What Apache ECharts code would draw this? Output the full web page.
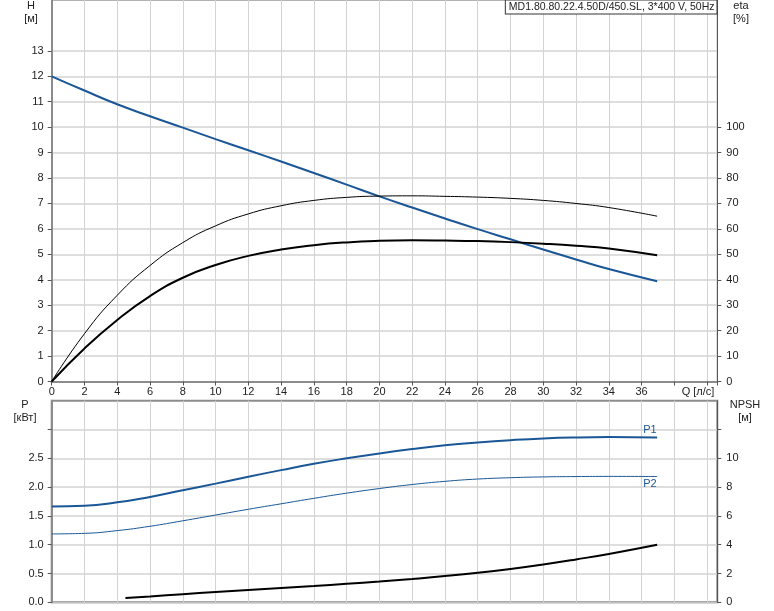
<!DOCTYPE html>
<html><head><meta charset="utf-8">
<script src="https://cdn.jsdelivr.net/npm/echarts@6/dist/echarts.min.js"></script>
<style>html,body{margin:0;padding:0;background:#fff}#c{width:774px;height:611px}</style>
</head><body><div id="c"></div>
<script>
// ---- data ----
const qMain = [0, 2, 4, 6, 8, 10, 12, 14, 16, 18, 20, 22, 24, 26, 28, 30, 32, 34, 36.95];
const headH = [12.0, 11.44, 10.9, 10.43, 9.98, 9.53, 9.09, 8.65, 8.2, 7.74, 7.28, 6.84, 6.41, 5.99, 5.59, 5.19, 4.8, 4.42, 3.94];
const etaPump = [0, 18.8, 33.9, 45.6, 54.6, 61.2, 65.9, 69.1, 71.2, 72.4, 72.9, 73.0, 72.8, 72.5, 72.0, 71.2, 70.0, 68.4, 65.0];
const etaTotal = [0, 13.0, 24.2, 33.6, 40.8, 45.8, 49.4, 51.9, 53.6, 54.7, 55.3, 55.5, 55.4, 55.2, 54.8, 54.2, 53.4, 52.3, 49.6];
const powerP1 = [1.665, 1.675, 1.735, 1.83, 1.945, 2.06, 2.18, 2.295, 2.405, 2.50, 2.585, 2.66, 2.725, 2.775, 2.815, 2.845, 2.862, 2.868, 2.862];
const powerP2 = [1.187, 1.197, 1.245, 1.32, 1.415, 1.515, 1.615, 1.71, 1.805, 1.895, 1.975, 2.045, 2.1, 2.14, 2.163, 2.177, 2.183, 2.186, 2.184];
const qNpsh = [4.5, 6, 8, 10, 12, 14, 16, 18, 20, 22, 24, 26, 28, 30, 32, 34, 36.95];
const npsh = [0.3, 0.41, 0.565, 0.71, 0.85, 0.99, 1.13, 1.28, 1.44, 1.62, 1.82, 2.05, 2.32, 2.63, 2.98, 3.36, 4.0];
const hTicks = [0,1,2,3,4,5,6,7,8,9,10,11,12,13];
const etaTicks = [0,10,20,30,40,50,60,70,80,90,100];
const pTicks = [0,0.5,1,1.5,2,2.5,3];
const npshTicks = [0,2,4,6,8,10,12];
const titleText = 'MD1.80.80.22.4.50D/450.SL, 3*400 V, 50Hz';

const pair = (xs, ys) => xs.map((x, i) => [x, ys[i]]);
const FONT = 'Liberation Sans, Arial, sans-serif';
const TXT = '#222';
const BLUE = '#1b5796';
const AX = '#8c8c8c';
const GRID = '#d3d3d3';

const chart = echarts.init(document.getElementById('c'), null, {renderer: 'canvas'});
const lbl = {color: TXT, fontFamily: FONT, fontSize: 11};
const curve = {type: 'line', smooth: true, showSymbol: false};

chart.setOption({
  animation: false,
  backgroundColor: '#fff',
  grid: [
    {left: 51.7, right: 56.7, top: 0, height: 381.5, show: true, borderColor: '#666', borderWidth: 1},
    {left: 51.7, right: 56.7, top: 400.7, height: 201.6, show: true, borderColor: AX, borderWidth: 2}
  ],
  xAxis: [
    {type: 'value', gridIndex: 0, min: 0, max: 40.62, interval: 2,
     axisLine: {show: true, onZero: false, lineStyle: {color: AX, width: 2}},
     axisTick: {show: true, length: 4, lineStyle: {color: '#555'}},
     axisLabel: Object.assign({margin: 5, formatter: v => (v <= 36 && v % 2 === 0) ? String(v) : ''}, lbl),
     splitLine: {show: true, lineStyle: {color: GRID, width: 1}}},
    {type: 'value', gridIndex: 1, min: 0, max: 40.62, interval: 2,
     axisLine: {show: false}, axisTick: {show: false}, axisLabel: {show: false},
     splitLine: {show: true, lineStyle: {color: GRID, width: 1}}}
  ],
  yAxis: [
    {type: 'value', gridIndex: 0, position: 'left', min: 0, max: 15, interval: 1,
     axisLine: {show: true, onZero: false, lineStyle: {color: AX, width: 2}},
     axisTick: {show: true, length: 4, customValues: hTicks, lineStyle: {color: '#555'}},
     axisLabel: Object.assign({margin: 8, customValues: hTicks, formatter: v => v <= 13 ? String(v) : ''}, lbl),
     splitLine: {show: true, lineStyle: {color: GRID, width: 1.5}}},
    {type: 'value', gridIndex: 0, position: 'right', min: 0, max: 150, interval: 10,
     axisLine: {show: true, onZero: false, lineStyle: {color: '#555', width: 1}},
     axisTick: {show: true, length: 4, customValues: etaTicks, lineStyle: {color: '#555'}},
     axisLabel: Object.assign({margin: 9, customValues: etaTicks, formatter: v => v <= 100 ? String(v) : ''}, lbl),
     splitLine: {show: false}},
    {type: 'value', gridIndex: 1, position: 'left', min: 0, max: 3.5, interval: 0.5,
     axisLine: {show: true, onZero: false, lineStyle: {color: AX, width: 2}},
     axisTick: {show: true, length: 4, customValues: pTicks, lineStyle: {color: '#555'}},
     axisLabel: Object.assign({margin: 8, customValues: pTicks, formatter: v => v <= 2.5 ? v.toFixed(1) : ''}, lbl),
     splitLine: {show: true, lineStyle: {color: GRID, width: 1.5}}},
    {type: 'value', gridIndex: 1, position: 'right', min: 0, max: 14, interval: 2,
     axisLine: {show: true, onZero: false, lineStyle: {color: '#555', width: 1}},
     axisTick: {show: true, length: 4, customValues: npshTicks, lineStyle: {color: '#555'}},
     axisLabel: Object.assign({margin: 9, customValues: npshTicks, formatter: v => v <= 10 ? String(v) : ''}, lbl),
     splitLine: {show: false}}
  ],
  series: [
    Object.assign({name: 'H', xAxisIndex: 0, yAxisIndex: 0, data: pair(qMain, headH),
     lineStyle: {color: BLUE, width: 2}}, curve),
    Object.assign({name: 'eta', xAxisIndex: 0, yAxisIndex: 1, data: pair(qMain, etaPump),
     lineStyle: {color: '#000', width: 1}}, curve),
    Object.assign({name: 'eta tot', xAxisIndex: 0, yAxisIndex: 1, data: pair(qMain, etaTotal),
     lineStyle: {color: '#000', width: 2}}, curve),
    Object.assign({name: 'P1', xAxisIndex: 1, yAxisIndex: 2, data: pair(qMain, powerP1),
     lineStyle: {color: BLUE, width: 2},
     endLabel: {show: true, formatter: 'P1', color: BLUE, fontFamily: FONT, fontSize: 11, offset: [-22, -7]}}, curve),
    Object.assign({name: 'P2', xAxisIndex: 1, yAxisIndex: 2, data: pair(qMain, powerP2),
     lineStyle: {color: BLUE, width: 1},
     endLabel: {show: true, formatter: 'P2', color: BLUE, fontFamily: FONT, fontSize: 11, offset: [-22, 7]}}, curve),
    Object.assign({name: 'NPSH', xAxisIndex: 1, yAxisIndex: 3, data: pair(qNpsh, npsh),
     lineStyle: {color: '#000', width: 2}}, curve)
  ],
  graphic: [
    {type: 'text', x: 716.5, y: 0.5, z: 100, style: {text: titleText, fill: TXT, font: '10.5px ' + FONT, align: 'right', verticalAlign: 'top',
      backgroundColor: '#fff', borderColor: '#333', borderWidth: 1, padding: [1, 2, 1, 3]}},
    {type: 'text', x: 31, y: 6, style: {text: 'H', fill: TXT, font: '11px ' + FONT, align: 'center', verticalAlign: 'middle'}},
    {type: 'text', x: 31, y: 19, style: {text: '[м]', fill: TXT, font: '11px ' + FONT, align: 'center', verticalAlign: 'middle'}},
    {type: 'text', x: 741, y: 6, style: {text: 'eta', fill: TXT, font: '11px ' + FONT, align: 'center', verticalAlign: 'middle'}},
    {type: 'text', x: 741, y: 19, style: {text: '[%]', fill: TXT, font: '11px ' + FONT, align: 'center', verticalAlign: 'middle'}},
    {type: 'text', x: 25, y: 405, style: {text: 'P', fill: TXT, font: '11px ' + FONT, align: 'center', verticalAlign: 'middle'}},
    {type: 'text', x: 25, y: 418, style: {text: '[кВт]', fill: TXT, font: '11px ' + FONT, align: 'center', verticalAlign: 'middle'}},
    {type: 'text', x: 745, y: 405, style: {text: 'NPSH', fill: TXT, font: '11px ' + FONT, align: 'center', verticalAlign: 'middle'}},
    {type: 'text', x: 745, y: 418, style: {text: '[м]', fill: TXT, font: '11px ' + FONT, align: 'center', verticalAlign: 'middle'}},
    {type: 'text', x: 698, y: 392, style: {text: 'Q [л/с]', fill: TXT, font: '11px ' + FONT, align: 'center', verticalAlign: 'middle'}}
  ]
});
</script></body></html>
